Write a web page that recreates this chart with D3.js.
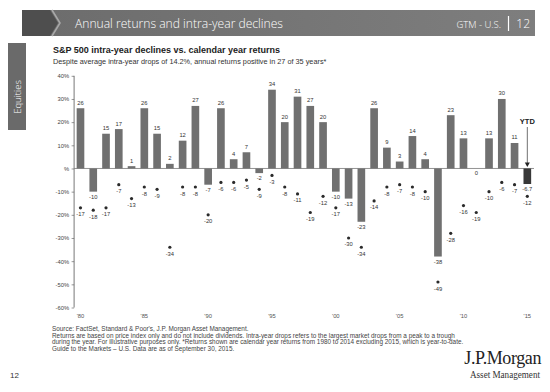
<!DOCTYPE html>
<html><head><meta charset="utf-8">
<script src="https://cdn.jsdelivr.net/npm/d3@7"></script>
<style>
html,body{margin:0;padding:0;background:#fff;}
svg{display:block;}
</style></head>
<body>
<svg id="c" width="550" height="392"></svg>
<script>
const years = [1980,1981,1982,1983,1984,1985,1986,1987,1988,1989,1990,1991,1992,1993,1994,1995,1996,1997,1998,1999,2000,2001,2002,2003,2004,2005,2006,2007,2008,2009,2010,2011,2012,2013,2014,2015];
const annualReturns = [26,-10,15,17,1,26,15,2,12,27,-7,26,4,7,-2,34,20,31,27,20,-10,-13,-23,26,9,3,14,4,-38,23,13,0,13,30,11,-6.7];
const intraYearDrops = [-17,-18,-17,-7,-13,-8,-9,-34,-8,-8,-20,-6,-6,-5,-9,-3,-8,-11,-19,-12,-17,-30,-34,-14,-8,-7,-8,-10,-49,-28,-16,-19,-10,-6,-7,-12];
const returnLabels = ["26","-10","15","17","1","26","15","2","12","27","-7","26","4","7","-2","34","20","31","27","20","-10","-13","-23","26","9","3","14","4","-38","23","13","0","13","30","11","-6.7"];
const dropLabels = ["-17","-18","-17","-7","-13","-8","-9","-34","-8","-8","-20","-6","-6","-5","-9","-3","-8","-11","-19","-12","-17","-30","-34","-14","-8","-7","-8","-10","-49","-28","-16","-19","-10","-6","-7","-12"];
const xTickYears = [1980,1985,1990,1995,2000,2005,2010,2015];
const xTickLabels = ["'80","'85","'90","'95","'00","'05","'10","'15"];
const yTicks = [40,30,20,10,0,-10,-20,-30,-40,-50,-60];
const yTickLabels = ["40%","30%","20%","10%","%","-10%","-20%","-30%","-40%","-50%","-60%"];
const ytdYear = 2015;

const svg = d3.select("#c");
const defs = svg.append("defs");
const g1 = defs.append("linearGradient").attr("id","hdr").attr("x1","0").attr("x2","1").attr("y1","0").attr("y2","0");
g1.append("stop").attr("offset","0").attr("stop-color","#6c6c6c");
g1.append("stop").attr("offset","1").attr("stop-color","#7e7e7e");

// Header bar
svg.append("rect").attr("x",22).attr("y",10).attr("width",513).attr("height",26).attr("fill","url(#hdr)");
svg.append("polygon").attr("points","22,10 50,10 58,23 50,36 22,36").attr("fill","#4e4e4e");
svg.append("polyline").attr("points","52,10 60,23 52,36").attr("fill","none").attr("stroke","#a8a8a8").attr("stroke-width",1.6);
svg.append("text").attr("x",75).attr("y",28).attr("fill","#fff").attr("font-family","'Open Sans', sans-serif").attr("font-size",13.5).attr("font-weight",300)
  .attr("textLength",208).attr("lengthAdjust","spacingAndGlyphs").text("Annual returns and intra-year declines");
svg.append("text").attr("x",501).attr("y",27.5).attr("text-anchor","end").attr("fill","#fff").attr("font-family","'Open Sans', sans-serif").attr("font-size",9.5).attr("font-weight",300).text("GTM - U.S.");
svg.append("line").attr("x1",508.5).attr("x2",508.5).attr("y1",16).attr("y2",31).attr("stroke","#fff").attr("stroke-width",1.2);
svg.append("text").attr("x",530).attr("y",28).attr("text-anchor","end").attr("fill","#fff").attr("font-family","'Open Sans', sans-serif").attr("font-size",12).attr("font-weight",300).text("12");

// Sidebar
svg.append("rect").attr("x",8).attr("y",43).attr("width",18).attr("height",87).attr("fill","#6a6a6a");
svg.append("text").attr("transform","translate(20.5,97) rotate(-90)").attr("text-anchor","middle").attr("fill","#fff").attr("font-family","'Open Sans', sans-serif").attr("font-size",9.5).attr("font-weight",300).text("Equities");

// Titles
svg.append("text").attr("x",53).attr("y",53).attr("font-family","'Liberation Sans', Arial, sans-serif").attr("font-weight","bold").attr("font-size",9).attr("fill","#222").text("S&P 500 intra-year declines vs. calendar year returns");
svg.append("text").attr("x",53).attr("y",64).attr("font-family","'Liberation Sans', Arial, sans-serif").attr("font-size",7.3).attr("fill","#333").text("Despite average intra-year drops of 14.2%, annual returns positive in 27 of 35 years*");

// Scales
const x = d3.scaleBand().domain(years).range([74.1,533.7]).paddingInner(0.4).paddingOuter(0.2);
const y = d3.scaleLinear().domain([-60,40]).range([307.5,75.8]);
const cx = d => x(d) + x.bandwidth()/2;
const fontS = "'Liberation Sans', Arial, sans-serif";

// Y axis
const yAxis = d3.axisLeft(y).tickValues(yTicks).tickSize(2.5).tickFormat((d,i)=>yTickLabels[i]);
const ya = svg.append("g").attr("transform","translate(74.1,0)").call(yAxis);
ya.select(".domain").attr("stroke","#555").attr("stroke-width",0.8).attr("d","M0,"+y(40)+"V"+y(-60));
ya.selectAll(".tick line").attr("stroke","#555").attr("stroke-width",0.6);
ya.selectAll(".tick text").attr("font-family",fontS).attr("font-size",5.8).attr("fill","#444").attr("x",-5);

// zero line
svg.append("line").attr("x1",74.1).attr("x2",534).attr("y1",y(0)).attr("y2",y(0)).attr("stroke","#777").attr("stroke-width",0.8);

// Bars
const data = years.map((yr,i)=>({yr, r:annualReturns[i], d:intraYearDrops[i], rl:returnLabels[i], dl:dropLabels[i]}));
svg.append("g").selectAll("rect").data(data).join("rect")
  .attr("x",d=>x(d.yr)).attr("width",x.bandwidth())
  .attr("y",d=>y(Math.max(0,d.r))).attr("height",d=>Math.abs(y(d.r)-y(0)))
  .attr("fill",d=>d.yr===ytdYear?"#383838":"#707070");

// Return labels
svg.append("g").selectAll("text").data(data).join("text")
  .attr("x",d=>cx(d.yr)).attr("y",d=>d.r>0? y(d.r)-3.5 : y(d.r)+7)
  .attr("text-anchor","middle").attr("font-family",fontS).attr("font-size",5.8).attr("fill","#333")
  .text(d=>d.rl);

// Dots
svg.append("g").selectAll("circle").data(data).join("circle")
  .attr("cx",d=>cx(d.yr)).attr("cy",d=>y(d.d)).attr("r",1.6).attr("fill","#2a2a2a");
svg.append("g").selectAll("text").data(data).join("text")
  .attr("x",d=>cx(d.yr)).attr("y",d=>y(d.d)+8.5)
  .attr("text-anchor","middle").attr("font-family",fontS).attr("font-size",5.8).attr("fill","#333")
  .text(d=>d.dl);

// X tick labels
svg.append("g").selectAll("text").data(xTickYears).join("text")
  .attr("x",d=>cx(d)).attr("y",318).attr("text-anchor","middle").attr("font-family",fontS).attr("font-size",5.8).attr("fill","#555")
  .text((d,i)=>xTickLabels[i]);

// YTD annotation
const ytdX = cx(ytdYear);
svg.append("text").attr("x",ytdX).attr("y",124).attr("text-anchor","middle").attr("font-family",fontS).attr("font-weight","bold").attr("font-size",7.5).attr("fill","#222").text("YTD");
svg.append("line").attr("x1",ytdX).attr("x2",ytdX).attr("y1",127).attr("y2",y(0)-5).attr("stroke","#333").attr("stroke-width",0.7);
svg.append("polygon").attr("points",`${ytdX-2.5},${y(0)-6} ${ytdX+2.5},${y(0)-6} ${ytdX},${y(0)-1.5}`).attr("fill","#222");

// Footnotes
const notes = [
 "Source: FactSet, Standard & Poor's, J.P. Morgan Asset Management.",
 "Returns are based on price index only and do not include dividends. Intra-year drops refers to the largest market drops from a peak to a trough",
 "during the year. For illustrative purposes only. *Returns shown are calendar year returns from 1980 to 2014 excluding 2015, which is year-to-date.",
 "Guide to the Markets \u2013 U.S. Data are as of September 30, 2015."
];
svg.append("g").selectAll("text").data(notes).join("text")
  .attr("x",52).attr("y",(d,i)=>331+i*6.7).attr("font-family",fontS).attr("font-size",6.4).attr("fill","#444").text(d=>d);

svg.append("text").attr("x",10).attr("y",378).attr("font-family",fontS).attr("font-size",8).attr("fill","#333").text("12");

// Logo
svg.append("text").attr("x",541).attr("y",364).attr("text-anchor","end").attr("font-family","'Liberation Serif', serif").attr("font-size",18).attr("fill","#222").attr("letter-spacing",-0.4).text("J.P.Morgan");
svg.append("text").attr("x",540).attr("y",378).attr("text-anchor","end").attr("font-family","'Liberation Serif', serif").attr("font-size",10).attr("fill","#333")
  .attr("textLength",70).attr("lengthAdjust","spacingAndGlyphs").text("Asset Management");
</script>
</body></html>
